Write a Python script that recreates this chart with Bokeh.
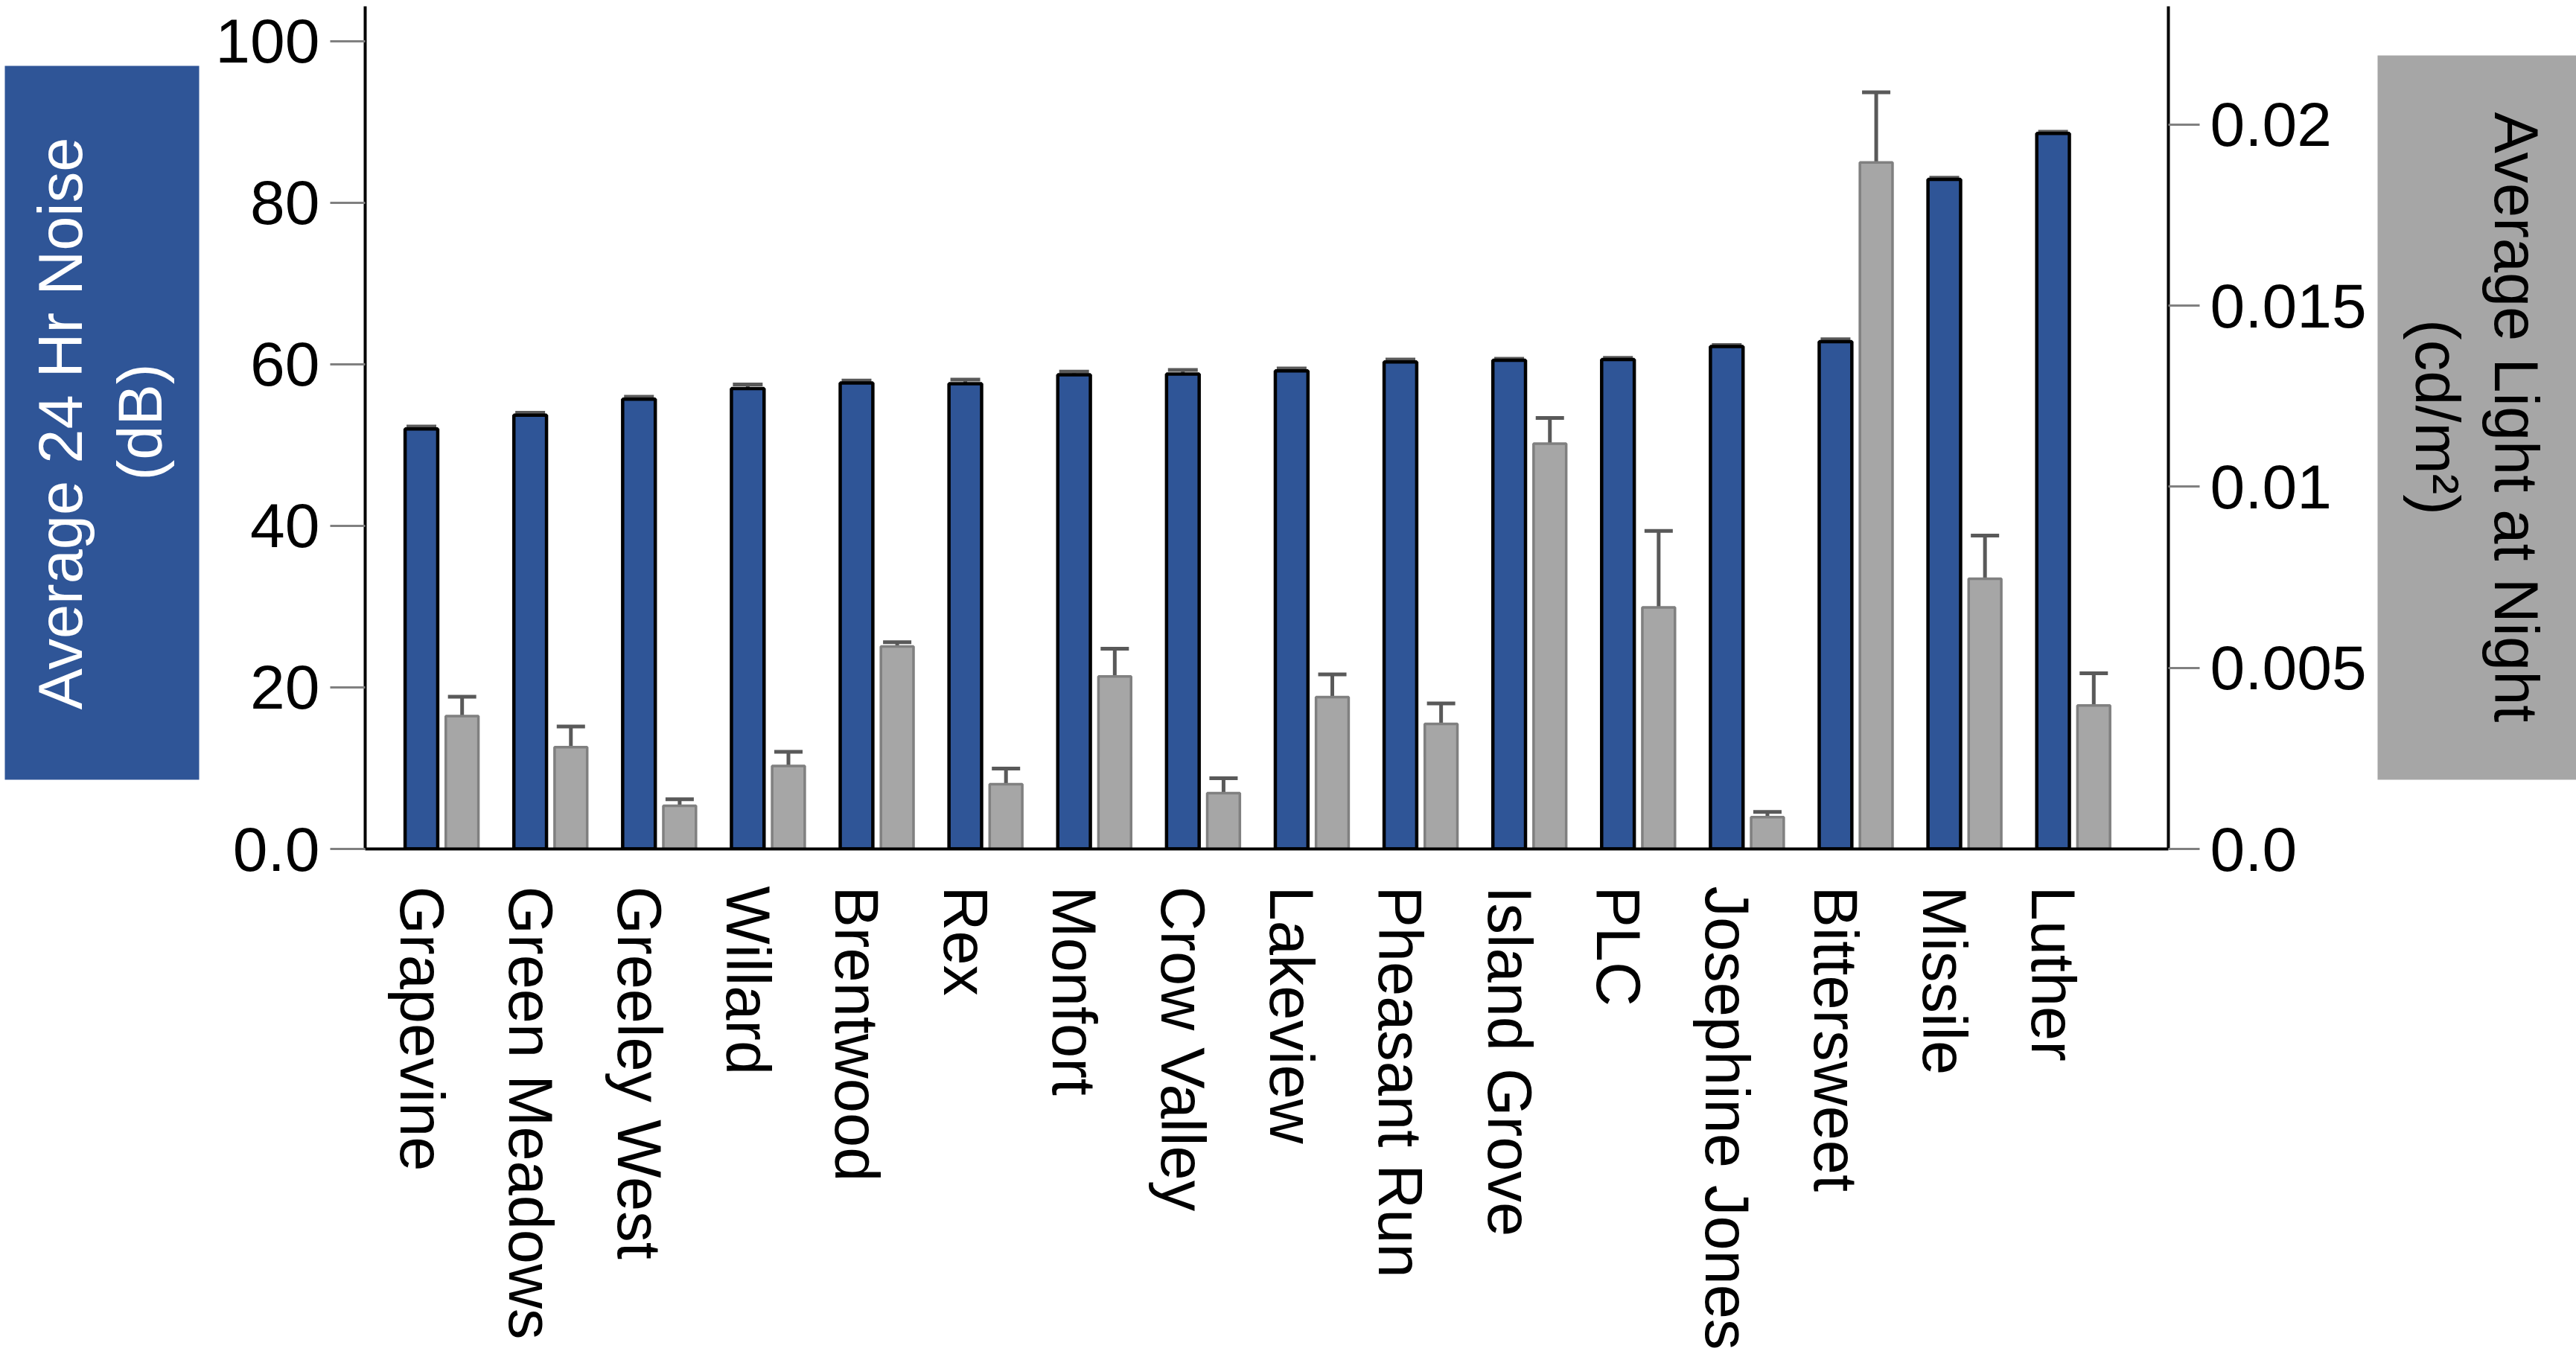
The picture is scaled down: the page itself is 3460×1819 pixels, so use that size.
import math
import numpy as np
from bokeh.plotting import figure
from bokeh.models import (Range1d, LinearAxis, FixedTicker, ColumnDataSource,
                          Whisker, TeeHead, CustomJSTickFormatter)
from bokeh.layouts import row
from bokeh.core.properties import value
from bokeh.embed import file_html
from bokeh.resources import INLINE

# ---------------- data ----------------
sites = ["Grapevine", "Green Meadows", "Greeley West", "Willard", "Brentwood",
         "Rex", "Monfort", "Crow Valley", "Lakeview", "Pheasant Run",
         "Island Grove", "PLC", "Josephine Jones", "Bittersweet", "Missile", "Luther"]
noise = [52.0, 53.7, 55.7, 57.0, 57.7, 57.6, 58.7, 58.8, 59.2, 60.3,
         60.5, 60.6, 62.2, 62.8, 82.9, 88.6]
noise_err = [0.3, 0.3, 0.3, 0.5, 0.3, 0.5, 0.4, 0.5, 0.3, 0.3,
             0.2, 0.2, 0.2, 0.3, 0.2, 0.2]
light = [0.00367, 0.00281, 0.00119, 0.00229, 0.00559, 0.00179, 0.00476, 0.00154,
         0.00419, 0.00345, 0.01119, 0.00667, 0.00088, 0.01895, 0.00746, 0.00396]
light_err = [0.00053, 0.00057, 0.00018, 0.00039, 0.00012, 0.00043, 0.00077, 0.00041,
             0.00063, 0.00057, 0.00071, 0.00211, 0.00014, 0.00194, 0.00119, 0.00089]
noise_ticks = [0, 20, 40, 60, 80, 100]
light_ticks = [0, 0.005, 0.01, 0.015, 0.02]
left_title = ["Average 24 Hr Noise", "(dB)"]
right_title = ["Average Light at Night", "(cd/m\u00b2)"]

# ---------------- style ----------------
FONT = "Liberation Sans"
BLUE = "#2F5597"
GRAY = "#A6A6A6"
GRAY_LINE = "#808080"
ERR = "#595959"
H = 1819
TOP = 8          # frame top
BOTTOM = 679     # space under the frame for the category labels
FRAME_H = H - TOP - BOTTOM
GAP = 0.374      # offset of light bar from noise bar, in category units

idx = np.arange(len(sites))
src = ColumnDataSource(dict(
    x=idx, xg=idx + GAP, site=sites,
    noise=noise,
    noise_lo=[n - e for n, e in zip(noise, noise_err)],
    noise_hi=[n + e for n, e in zip(noise, noise_err)],
    light=light,
    light_lo=[v - e for v, e in zip(light, light_err)],
    light_hi=[v + e for v, e in zip(light, light_err)],
))

# ---------------- main figure ----------------
p = figure(width=2905, height=H, output_backend="svg", toolbar_location=None,
           x_range=Range1d(-0.517, 16.06), y_range=Range1d(0, 104.33),
           min_border_left=210, min_border_right=273, min_border_top=TOP,
           min_border_bottom=BOTTOM)
p.outline_line_color = None
p.grid.visible = False
p.background_fill_color = "white"
p.border_fill_color = "white"
p.extra_y_ranges = {"light": Range1d(0, 0.023263)}

p.vbar(x="x", top="noise", bottom=0, width=0.3, source=src,
       fill_color=BLUE, line_color="black", line_width=4.5)
p.vbar(x="xg", top="light", bottom=0, width=0.3, source=src, y_range_name="light",
       fill_color=GRAY, line_color=GRAY_LINE, line_width=3.5)

p.add_layout(Whisker(base="x", lower="noise_lo", upper="noise_hi", source=src,
                     line_color=ERR, line_width=5,
                     upper_head=TeeHead(size=40, line_color=ERR, line_width=5),
                     lower_head=TeeHead(size=40, line_color=ERR, line_width=5)))
p.add_layout(Whisker(base="xg", lower="light_lo", upper="light_hi", source=src,
                     y_range_name="light", line_color=ERR, line_width=5,
                     upper_head=TeeHead(size=38, line_color=ERR, line_width=5),
                     lower_head=TeeHead(size=38, line_color=ERR, line_width=5)))

# x axis
xa = p.xaxis[0]
xa.ticker = FixedTicker(ticks=list(idx))
xa.major_label_overrides = {int(i): s for i, s in zip(idx, sites)}
xa.major_label_orientation = "vertical"
xa.major_label_text_font = FONT
xa.major_label_text_font_size = "83px"
xa.major_label_text_color = "black"
xa.major_label_standoff = 50
xa.major_tick_line_color = None
xa.major_tick_out = 0
xa.major_tick_in = 0
xa.minor_tick_line_color = None
xa.axis_line_color = "black"
xa.axis_line_width = 4

# left axis
ya = p.yaxis[0]
ya.ticker = FixedTicker(ticks=noise_ticks)
ya.formatter = CustomJSTickFormatter(code="return tick == 0 ? '0.0' : tick.toFixed(0);")
ya.major_label_text_font = FONT
ya.major_label_text_font_size = "84px"
ya.major_label_text_color = "black"
ya.major_label_standoff = 14
ya.major_tick_line_color = GRAY_LINE
ya.major_tick_line_width = 3
ya.major_tick_out = 47
ya.major_tick_in = 0
ya.minor_tick_line_color = None
ya.axis_line_color = "black"
ya.axis_line_width = 4

# right axis
ra = LinearAxis(y_range_name="light", ticker=FixedTicker(ticks=light_ticks),
                formatter=CustomJSTickFormatter(code="return tick == 0 ? '0.0' : String(tick);"))
ra.major_label_text_font = FONT
ra.major_label_text_font_size = "84px"
ra.major_label_text_color = "black"
ra.major_label_standoff = 14
ra.major_tick_line_color = GRAY_LINE
ra.major_tick_line_width = 3
ra.major_tick_out = 42
ra.major_tick_in = 0
ra.minor_tick_line_color = None
ra.axis_line_color = "black"
ra.axis_line_width = 4
p.add_layout(ra, "right")


# ---------------- side title panels (frames aligned with the main frame) ----------------
def side_panel(width):
    f = figure(width=width, height=H, output_backend="svg", toolbar_location=None,
               x_range=Range1d(0, width), y_range=Range1d(0, FRAME_H),
               x_axis_type=None, y_axis_type=None,
               min_border_left=0, min_border_right=0,
               min_border_top=TOP, min_border_bottom=BOTTOM)
    f.outline_line_color = None
    f.grid.visible = False
    f.background_fill_color = "white"
    f.border_fill_color = "white"
    return f


# y in these panels: distance above the frame bottom
lp = side_panel(280)
lp.quad(left=6, right=267, bottom=93, top=1052, fill_color=BLUE, line_color=None)
lp.text(x=[81, 188], y=[571.5, 573.5], text=left_title, angle=math.pi / 2,
        text_align="center", text_baseline="alphabetic",
        text_font=value(FONT), text_font_size="83px", text_color="white")

rp = side_panel(275)
rp.quad(left=8, right=275, bottom=93, top=1066, fill_color=GRAY, line_color=None)
rp.text(x=[194, 88], y=[580, 580], text=right_title, angle=-math.pi / 2,
        text_align="center", text_baseline="alphabetic",
        text_font=value(FONT), text_font_size="83px", text_color="black")

layout = row(lp, p, rp, spacing=0)

open("out.html", "w").write(file_html(layout, INLINE))
